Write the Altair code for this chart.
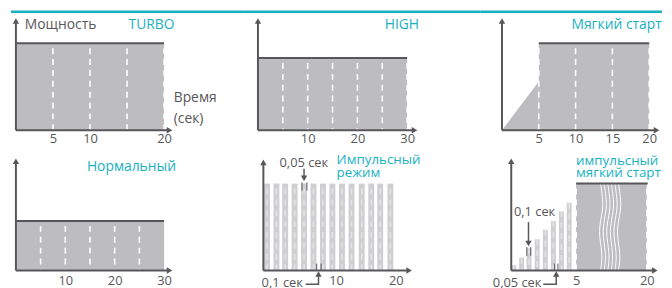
import altair as alt
import pandas as pd

FONT = "Open Sans"
TEAL = "#17b1bf"
TXT = "#58585a"
AX = "#57575a"
FILL = "#bdbdc0"
BAR = "#cfcfd1"

# ---------------- data ----------------
turbo_span = [0, 20]
turbo_level = 100
turbo_dashes = [5, 10, 15, 20]
turbo_ticks = [5, 10, 20]

high_span = [0, 30]
high_level = 83
high_dashes = [5, 10, 15, 20, 25, 30]
high_ticks = [10, 20, 30]

soft_ramp_t = [0, 5]
soft_ramp_p = [0, 56]
soft_span = [5, 20]
soft_level = 100
soft_dashes = [5, 10, 15, 20]
soft_ticks = [5, 10, 15, 20]

normal_span = [0, 30]
normal_level = 57
normal_dashes = [5, 10, 15, 20, 25]
normal_ticks = [10, 20, 30]

pulse_t = [0.5, 1.8, 3.0, 4.3, 5.6, 6.9, 8.2, 9.5, 11.0, 12.6, 14.3, 15.9, 17.4, 19.1]
pulse_level = 100
pulse_ticks = [10, 20]

ps_t = [0.2, 0.8, 1.37, 2.0, 2.63, 3.25, 3.87, 4.47]
ps_p = [6, 15, 26, 36, 47, 57, 68, 78]
ps_span = [5, 20]
ps_level = 100
ps_dashes = [5, 20]
ps_ticks = [5, 20]

wave_base = [10.2, 10.96, 11.72, 12.48, 13.24, 14.0]
wave_p = [100, 85, 70, 45, 20, 0]
wave_dx = [0, 0.4, 0.6, -0.6, 0.5, 0]


# ---------------- helpers ----------------
def scales(xdom, xrng, yrng, ticks, pad):
    xs = alt.Scale(domain=xdom, range=xrng, nice=False, zero=False)
    ys = alt.Scale(domain=[0, 100], range=yrng, nice=False, zero=False)
    ax = alt.Axis(values=ticks, domain=False, ticks=False, grid=False,
                  labelPadding=pad, labelFlush=False, labelOverlap=False,
                  labelBound=False, title=None, format="d",
                  labelFont=FONT, labelFontSize=13, labelColor=TXT)

    def X(f):
        return alt.X(f, type="quantitative", scale=xs, axis=ax)

    def Y(f):
        return alt.Y(f, type="quantitative", scale=ys, axis=None)
    return X, Y


def rect(X, Y, t0, t1, p0, p1, color):
    df = pd.DataFrame({"t0": [t0], "t1": [t1], "p0": [p0], "p1": [p1]})
    return alt.Chart(df).mark_rect(color=color).encode(
        x=X("t0"), x2="t1", y=Y("p0"), y2="p1")


def hline(X, Y, t0, t1, p, color=AX, w=2.0, **kw):
    df = pd.DataFrame({"t0": [t0], "t1": [t1], "p": [p]})
    return alt.Chart(df).mark_rule(color=color, strokeWidth=w, **kw).encode(
        x=X("t0"), x2="t1", y=Y("p"))


def vlines(X, Y, ts, p0, p1, color=AX, w=2.0, **kw):
    df = pd.DataFrame({"t": ts, "p0": [p0] * len(ts), "p1": [p1] * len(ts)})
    return alt.Chart(df).mark_rule(color=color, strokeWidth=w, **kw).encode(
        x=X("t"), y=Y("p0"), y2="p1")


def dashes(X, Y, ts, top, color="white", w=1.6, opacity=1.0):
    return vlines(X, Y, ts, top, 0, color=color, w=w, strokeDash=[6, 5],
                  strokeDashOffset=6, opacity=opacity)


def head(X, Y, t, p, shape):
    df = pd.DataFrame({"t": [t], "p": [p]})
    return alt.Chart(df).mark_point(shape=shape, filled=True, size=42,
                                    color=AX, opacity=1).encode(
        x=X("t"), y=Y("p"))


def axes(X, Y, xc, yc):
    return [hline(X, Y, 0, xc, 0), vlines(X, Y, [0], 0, yc),
            head(X, Y, xc, 0, "triangle-right"),
            head(X, Y, 0, yc, "triangle-up")]


def texts(X, Y, ts, ps, labels, align="left", color=TXT, size=14):
    df = pd.DataFrame({"t": ts, "p": ps, "s": labels})
    return alt.Chart(df).mark_text(align=align, baseline="middle", font=FONT,
                                   fontSize=size, color=color).encode(
        x=X("t"), y=Y("p"), text="s:N")


def poly(X, Y, ts, ps, color=AX, w=1.5):
    df = pd.DataFrame({"t": ts, "p": ps, "o": list(range(len(ts)))})
    return alt.Chart(df).mark_line(color=color, strokeWidth=w).encode(
        x=X("t"), y=Y("p"), order="o:Q")


ROW1_Y = [121, 33]
ROW2_Y = [131, 43]
W1, W2, W3 = 238, 240, 186
H1, H2 = 121, 131

# ---------------- panel 1 : TURBO ----------------
X, Y = scales([0, 20], [8, 158], ROW1_Y, turbo_ticks, 2)
p1 = alt.layer(
    rect(X, Y, turbo_span[0], turbo_span[1], 0, turbo_level, FILL),
    dashes(X, Y, turbo_dashes, turbo_level),
    hline(X, Y, turbo_span[0], turbo_span[1], turbo_level),
    *axes(X, Y, 20.73, 125.6),
    texts(X, Y, [1.2], [120.5], ["Мощность"]),
    texts(X, Y, [15.2], [120.5], ["TURBO"], color=TEAL),
    texts(X, Y, [21.3, 21.3], [36.5, 12.5], ["Время", "(сек)"]),
    hline(X, Y, -0.67, 30.67, 136.4, color=TEAL, w=2.5),
).properties(width=W1, height=H1)

# ---------------- panel 2 : HIGH ----------------
X, Y = scales([0, 30], [15, 166], ROW1_Y, high_ticks, 2)
p2 = alt.layer(
    rect(X, Y, high_span[0], high_span[1], 0, high_level, FILL),
    dashes(X, Y, high_dashes, high_level),
    hline(X, Y, high_span[0], high_span[1], high_level),
    *axes(X, Y, 31.49, 125.6),
    texts(X, Y, [32.4], [120.5], ["HIGH"], align="right", color=TEAL),
    hline(X, Y, -2.98, 44.7, 136.4, color=TEAL, w=2.5),
).properties(width=W2, height=H1)

# ---------------- panel 3 : soft start ----------------
X, Y = scales([0, 20], [22, 171], ROW1_Y, soft_ticks, 2)
ramp = alt.Chart(pd.DataFrame({"t": soft_ramp_t, "p": soft_ramp_p})).mark_area(
    color=FILL).encode(x=X("t"), y=Y("p"))
p3 = alt.layer(
    ramp,
    rect(X, Y, soft_span[0], soft_span[1], 0, soft_level, FILL),
    dashes(X, Y, soft_dashes, soft_level),
    hline(X, Y, soft_span[0], soft_span[1], soft_level),
    *axes(X, Y, 21.0, 125.6),
    texts(X, Y, [21.7], [120.5], ["Мягкий старт"], align="right", color=TEAL),
    hline(X, Y, -2.95, 21.74, 136.4, color=TEAL, w=2.5),
).properties(width=W3, height=H1)

# ---------------- panel 4 : normal ----------------
X, Y = scales([0, 30], [8, 158], ROW2_Y, normal_ticks, 4)
p4 = alt.layer(
    rect(X, Y, normal_span[0], normal_span[1], 0, normal_level, FILL),
    dashes(X, Y, normal_dashes, normal_level),
    hline(X, Y, normal_span[0], normal_span[1], normal_level),
    *axes(X, Y, 31.1, 125.6),
    texts(X, Y, [32.4], [119.3], ["Нормальный"], align="right", color=TEAL),
).properties(width=W1, height=H2)

# ---------------- panel 5 : pulse ----------------
X, Y = scales([0, 10, 20], [15, 94, 159], ROW2_Y, pulse_ticks, 4)
bars5 = alt.Chart(pd.DataFrame({"t": pulse_t, "p0": [0] * len(pulse_t),
                                "p1": [pulse_level] * len(pulse_t)})).mark_bar(
    size=6, color=BAR).encode(x=X("t"), y=Y("p0"), y2="p1")
p5 = alt.layer(
    bars5,
    dashes(X, Y, pulse_t, pulse_level, opacity=0.45, w=1.5),
    *axes(X, Y, 22.23, 124.4),
    texts(X, Y, [10.1, 10.1], [127.5, 112.5], ["Импульсный", "режим"], color=TEAL, size=13.5),
    texts(X, Y, [5.57], [123.9], ["0,05 сек"], align="center", size=13),
    vlines(X, Y, [5.6], 117, 107, w=1.5),
    head(X, Y, 5.6, 106, "triangle-down"),
    vlines(X, Y, [5.32, 6.0], 101.5, 92, w=1),
    texts(X, Y, [5.44], [-14.3], ["0,1 сек"], align="right", size=13),
    poly(X, Y, [5.82, 7.59, 7.59], [-15.9, -15.9, -4.5]),
    head(X, Y, 7.59, -4, "triangle-up"),
    vlines(X, Y, [7.34, 7.95], 0, 8, w=1),
).properties(width=W2, height=H2)

# ---------------- panel 6 : pulse soft start ----------------
X, Y = scales([0, 5, 20], [22, 97, 172], ROW2_Y, ps_ticks, 4)
bars6 = alt.Chart(pd.DataFrame({"t": ps_t, "p0": [0] * len(ps_t), "p1": ps_p})).mark_bar(
    size=5, color=BAR).encode(x=X("t"), y=Y("p0"), y2="p1")
bar_dash6 = alt.Chart(pd.DataFrame({"t": ps_t, "p0": [0] * len(ps_t), "p1": ps_p})).mark_rule(
    color="white", strokeWidth=1.5, strokeDash=[6, 5], opacity=0.45).encode(
    x=X("t"), y=Y("p1"), y2="p0")
wave_rows = []
for i, b in enumerate(wave_base):
    for j, (p, dx) in enumerate(zip(wave_p, wave_dx)):
        wave_rows.append({"id": i, "o": j, "t": b + dx, "p": p})
waves = alt.Chart(pd.DataFrame(wave_rows)).mark_line(
    color="white", strokeWidth=1, interpolate="basis").encode(
    x=X("t"), y=Y("p"), detail="id:N", order="o:Q")
p6 = alt.layer(
    bars6, bar_dash6,
    rect(X, Y, ps_span[0], ps_span[1], 0, ps_level, FILL),
    waves,
    dashes(X, Y, ps_dashes, ps_level),
    hline(X, Y, ps_span[0], ps_span[1] + 0.2, ps_level),
    *axes(X, Y, 21.7, 125.6),
    texts(X, Y, [5.0, 5.0], [126, 112], ["импульсный", "мягкий старт"], color=TEAL, size=13.5),
    texts(X, Y, [1.8], [67], ["0,1 сек"], align="center", size=13),
    vlines(X, Y, [1.33], 55.7, 32, w=1.5),
    head(X, Y, 1.33, 31.2, "triangle-down"),
    vlines(X, Y, [1.2, 1.5], 27, 17, w=1),
    texts(X, Y, [2.33], [-14.3], ["0,05 сек"], align="right", size=13),
    poly(X, Y, [2.47, 3.47, 3.47], [-15.9, -15.9, -4.5]),
    head(X, Y, 3.47, -4, "triangle-up"),
    vlines(X, Y, [3.33, 3.6], 0, 8, w=1),
).properties(width=W3, height=H2)

chart = alt.concat(p1, p2, p3, p4, p5, p6, columns=3,
                   spacing={"row": 11, "column": 0}, bounds="flush",
                   padding=0).configure_view(stroke=None)

chart.save("out.html", embed_options={"renderer": "svg", "actions": False})
